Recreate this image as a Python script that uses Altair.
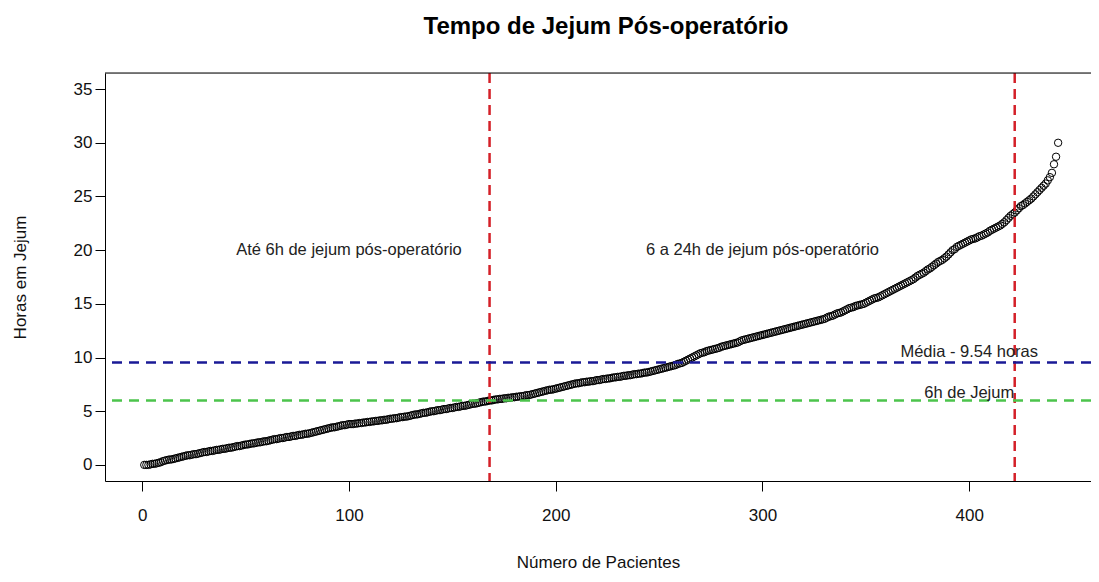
import altair as alt
import pandas as pd

# Sorted post-operative fasting time (hours), one value per patient
hours = [
    0.0, 0.0, 0.0, 0.05, 0.1, 0.1, 0.15, 0.2, 0.25, 0.35,
    0.4, 0.45, 0.5, 0.5, 0.55, 0.6, 0.65, 0.7, 0.75, 0.8,
    0.85, 0.9, 0.9, 0.95, 1.0, 1.0, 1.05, 1.1, 1.15, 1.2,
    1.2, 1.25, 1.3, 1.3, 1.35, 1.4, 1.4, 1.45, 1.5, 1.5,
    1.55, 1.6, 1.6, 1.65, 1.7, 1.75, 1.75, 1.8, 1.85, 1.9,
    1.9, 1.95, 2.0, 2.0, 2.05, 2.1, 2.1, 2.15, 2.2, 2.2,
    2.25, 2.3, 2.35, 2.4, 2.4, 2.45, 2.5, 2.5, 2.55, 2.6,
    2.6, 2.65, 2.7, 2.7, 2.75, 2.8, 2.8, 2.85, 2.9, 2.9,
    2.95, 3.0, 3.05, 3.1, 3.15, 3.2, 3.25, 3.3, 3.35, 3.4,
    3.45, 3.5, 3.5, 3.55, 3.6, 3.65, 3.7, 3.7, 3.75, 3.8,
    3.8, 3.8, 3.85, 3.85, 3.9, 3.9, 3.95, 3.95, 4.0, 4.0,
    4.05, 4.05, 4.1, 4.1, 4.15, 4.15, 4.2, 4.2, 4.25, 4.3,
    4.3, 4.35, 4.35, 4.4, 4.45, 4.45, 4.5, 4.5, 4.55, 4.6,
    4.65, 4.7, 4.7, 4.75, 4.8, 4.85, 4.85, 4.9, 4.95, 5.0,
    5.0, 5.05, 5.1, 5.1, 5.15, 5.2, 5.2, 5.25, 5.3, 5.3,
    5.35, 5.4, 5.4, 5.45, 5.5, 5.5, 5.55, 5.6, 5.65, 5.7,
    5.7, 5.75, 5.8, 5.85, 5.9, 5.9, 5.95, 6.0, 6.0, 6.05,
    6.1, 6.1, 6.15, 6.15, 6.2, 6.2, 6.25, 6.25, 6.3, 6.3,
    6.35, 6.35, 6.4, 6.4, 6.45, 6.5, 6.5, 6.55, 6.6, 6.65,
    6.7, 6.75, 6.8, 6.85, 6.9, 6.95, 7.0, 7.0, 7.05, 7.1,
    7.15, 7.2, 7.25, 7.3, 7.35, 7.4, 7.45, 7.5, 7.55, 7.6,
    7.6, 7.65, 7.7, 7.7, 7.75, 7.75, 7.8, 7.8, 7.85, 7.9,
    7.9, 7.95, 8.0, 8.0, 8.05, 8.05, 8.1, 8.15, 8.15, 8.2,
    8.2, 8.25, 8.3, 8.3, 8.35, 8.35, 8.4, 8.45, 8.45, 8.5,
    8.5, 8.55, 8.6, 8.6, 8.65, 8.7, 8.75, 8.8, 8.85, 8.9,
    8.95, 9.0, 9.05, 9.1, 9.15, 9.2, 9.25, 9.3, 9.4, 9.45,
    9.5, 9.6, 9.7, 9.8, 9.9, 10.0, 10.1, 10.2, 10.3, 10.4,
    10.45, 10.5, 10.6, 10.65, 10.7, 10.75, 10.8, 10.85, 10.9, 11.0,
    11.05, 11.1, 11.15, 11.2, 11.25, 11.3, 11.35, 11.4, 11.5, 11.6,
    11.65, 11.7, 11.75, 11.8, 11.85, 11.9, 11.95, 12.0, 12.05, 12.1,
    12.15, 12.2, 12.25, 12.3, 12.35, 12.4, 12.45, 12.5, 12.55, 12.6,
    12.65, 12.7, 12.75, 12.8, 12.85, 12.9, 12.95, 13.0, 13.05, 13.1,
    13.15, 13.2, 13.25, 13.3, 13.35, 13.4, 13.45, 13.5, 13.55, 13.6,
    13.7, 13.8, 13.85, 13.9, 14.0, 14.1, 14.15, 14.2, 14.3, 14.4,
    14.5, 14.6, 14.65, 14.7, 14.8, 14.85, 14.9, 14.95, 15.0, 15.1,
    15.2, 15.3, 15.4, 15.5, 15.55, 15.6, 15.7, 15.8, 15.9, 16.0,
    16.1, 16.2, 16.3, 16.4, 16.5, 16.6, 16.7, 16.8, 16.9, 17.0,
    17.1, 17.2, 17.3, 17.45, 17.6, 17.7, 17.8, 17.9, 18.05, 18.2,
    18.3, 18.45, 18.6, 18.75, 18.9, 19.0, 19.1, 19.25, 19.4, 19.6,
    19.8, 20.0, 20.1, 20.3, 20.4, 20.5, 20.6, 20.7, 20.8, 20.9,
    21.0, 21.05, 21.1, 21.2, 21.3, 21.35, 21.45, 21.55, 21.65, 21.8,
    21.9, 22.0, 22.1, 22.2, 22.3, 22.45, 22.6, 22.8, 23.0, 23.2,
    23.35, 23.5, 23.7, 23.9, 24.1, 24.2, 24.35, 24.5, 24.65, 24.8,
    25.0, 25.2, 25.4, 25.6, 25.8, 26.0, 26.2, 26.5, 26.8, 27.2,
    28.0, 28.7, 30.0,
]
patients = list(range(1, len(hours) + 1))

# Reference lines
vline_x = [168, 422]
mean_hours = 9.54
fast_6h = 6

# Annotations
ann_text = ["Até 6h de jejum pós-operatório", "6 a 24h de jejum pós-operatório",
            "Média - 9.54 horas", "6h de Jejum"]
ann_x = [100, 300, 400, 400]
ann_y = [20, 20, 10.5, 6.7]

x_ticks = [0, 100, 200, 300, 400]
y_ticks = [0, 5, 10, 15, 20, 25, 30, 35]

FONT = "Liberation Sans"

df = pd.DataFrame({"paciente": patients, "horas": hours})
xs = alt.Scale(domain=[-18, 458.9], nice=False, zero=False)
ys = alt.Scale(domain=[-1.5, 36.5], nice=False, zero=False)

points = alt.Chart(df).mark_point(
    shape="circle", filled=False, size=55, strokeWidth=1, color="black", opacity=1
).encode(
    x=alt.X("paciente:Q", scale=xs, title="Número de Pacientes",
            axis=alt.Axis(values=x_ticks, grid=False, tickSize=10, tickColor="black",
                          domainColor="black", labelFontSize=17, titleFontSize=17,
                          labelPadding=16, labelColor="#111", titleColor="#111",
                          titleFontWeight="normal", labelFont=FONT, titleFont=FONT,
                          titleBaseline="middle", titleY=81)),
    y=alt.Y("horas:Q", scale=ys, title="Horas em Jejum",
            axis=alt.Axis(values=y_ticks, grid=False, tickSize=10, tickColor="black",
                          domainColor="black", labelFontSize=17, titleFontSize=17,
                          labelPadding=3, labelColor="#111", titleColor="#111",
                          titleFontWeight="normal", labelFont=FONT, titleFont=FONT,
                          titleX=-85, titleBaseline="middle")),
)

vdf = pd.DataFrame({"x": vline_x})
vlines = alt.Chart(vdf).mark_rule(color="#d42028", strokeWidth=2.5, strokeDash=[10, 6]).encode(
    x=alt.X("x:Q", scale=xs)
)

mean_line = alt.Chart(pd.DataFrame({"y": [mean_hours]})).mark_rule(
    color="#1a1a96", strokeWidth=2.5, strokeDash=[10, 7]).encode(y=alt.Y("y:Q", scale=ys))
six_line = alt.Chart(pd.DataFrame({"y": [fast_6h]})).mark_rule(
    color="#4cc44c", strokeWidth=2.5, strokeDash=[10, 7]).encode(y=alt.Y("y:Q", scale=ys))

tdf = pd.DataFrame({"t": ann_text, "x": ann_x, "y": ann_y})
texts = alt.Chart(tdf).mark_text(font=FONT, fontSize=16.5, color="#222", align="center",
                                 baseline="middle").encode(
    x=alt.X("x:Q", scale=xs), y=alt.Y("y:Q", scale=ys), text="t:N"
)

top_border = alt.Chart(pd.DataFrame({"y": [36.5]})).mark_rule(color="black", strokeWidth=1).encode(
    y=alt.Y("y:Q", scale=ys)
)

chart = alt.layer(points, vlines, mean_line, six_line, texts, top_border).properties(
    width=986, height=408,
    title=alt.TitleParams("Tempo de Jejum Pós-operatório", font=FONT, fontSize=24,
                          fontWeight="bold", color="black", anchor="middle",
                          baseline="alphabetic", offset=14, dx=8),
    autosize=alt.AutoSizeParams(type="none"),
    padding={"left": 97, "top": 65, "right": 0, "bottom": 93},
).configure_view(stroke=None).configure(background="white")

chart.save("out.html", embed_options={"renderer": "svg", "actions": False})
